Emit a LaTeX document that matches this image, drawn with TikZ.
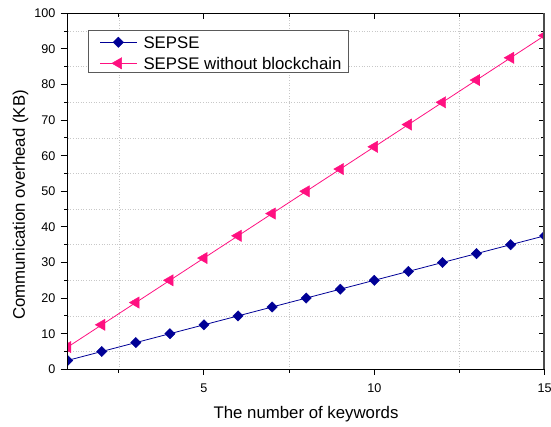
\documentclass[tikz,border=0pt]{standalone}
\usepackage{fontspec}
\setmainfont{Liberation Sans}
\usetikzlibrary{shapes.geometric,calc}
\definecolor{seblue}{RGB}{0,0,150}
\definecolor{sepink}{RGB}{255,16,128}
\definecolor{gridgray}{RGB}{200,200,200}
\definecolor{legborder}{RGB}{90,90,90}
\begin{document}
\begin{tikzpicture}[x=1pt,y=1pt,
  ticklab/.style={font=\fontsize{12.6}{14}\selectfont, inner sep=0pt},
  axtitle/.style={font=\fontsize{16.8}{19}\selectfont, inner sep=0pt},
  legtext/.style={font=\fontsize{16.8}{19}\selectfont, inner sep=0pt, anchor=base west},
  bluemark/.style={diamond, fill=seblue, draw=seblue, minimum width=10.5pt, minimum height=10.5pt, inner sep=0pt},
  pinkmark/.style={regular polygon, regular polygon sides=3, shape border rotate=90, fill=sepink, draw=sepink, minimum size=13pt, inner sep=0pt},
  blueline/.style={seblue, line width=0.8pt},
  pinkline/.style={sepink, line width=0.8pt},
  gridline/.style={gridgray, dotted, line width=0.6pt},
  axisline/.style={black, line width=1.4pt},
  tickline/.style={black, line width=1pt},
]
\useasboundingbox (0,0) rectangle (551,426);
\coordinate (ll) at (67.7,56.7);
\coordinate (ur) at (544.3,412.7);

% data frame: x = keywords, y = overhead in KB
\begin{scope}[shift={(33.63pt,56.7pt)}, x=34.07pt, y=3.56pt]
  % grid
  \foreach \v in {5,15,...,95} \draw[gridline] (1,\v) -- (15,\v);
  \foreach \u in {2.5,7.5,12.5} \draw[gridline] (\u,0) -- (\u,100);

  % series
  \foreach \k in {1,...,15} {
    \coordinate (b\k) at (\k,{2.5*\k});
    \coordinate (p\k) at (\k,{6.25*\k});
  }
  \begin{scope}
    \clip (ll) rectangle (ur);
    \draw[pinkline] (p1) \foreach \k in {2,...,15} { -- (p\k) };
    \draw[blueline] (b1) \foreach \k in {2,...,15} { -- (b\k) };
    \foreach \k in {1,...,15} {
      \node[pinkmark] (mp\k) at (p\k) {};
      \node[bluemark] (mb\k) at (b\k) {};
    }
  \end{scope}

  % ticks
  \foreach \v in {0,10,...,100} {
    \draw[tickline] ([xshift=-7pt]1,\v) -- (1,\v);
    \draw[tickline] (15,\v) -- ([xshift=-6pt]15,\v);
    \node[ticklab, anchor=east] at ([xshift=-12pt]1,\v) {\v};
  }
  \foreach \v in {5,15,...,95} {
    \draw[tickline] ([xshift=-3.5pt]1,\v) -- (1,\v);
    \draw[tickline] (15,\v) -- ([xshift=-3.5pt]15,\v);
  }
  \foreach \u in {5,10,15} {
    \draw[tickline] (\u,0) -- ([yshift=-6pt]\u,0);
    \draw[tickline] (\u,100) -- ([yshift=-6pt]\u,100);
    \node[ticklab, anchor=base] at ([yshift=-22.7pt]\u,0) {\u};
  }
  \foreach \u in {2.5,7.5,12.5} {
    \draw[tickline] (\u,0) -- ([yshift=-3.5pt]\u,0);
    \draw[tickline] (\u,100) -- ([yshift=-3.5pt]\u,100);
  }
\end{scope}

% frame
\draw[axisline] (ur -| ll) -- (ll) -- (ll -| ur);
\draw[axisline] (ur -| ll) -- (ur);
\draw[gray!60!black, line width=2.2pt] (ur) -- (ll -| ur);

% axis titles
\node[axtitle, anchor=base] (xtitle) at (306,8) {The number of keywords};
\node[axtitle, rotate=90, anchor=base] (ytitle) at (25,221) {Communication overhead (KB)};

% legend
\node[draw=legborder, line width=0.8pt, fill=white, minimum width=259.4pt, minimum height=42.3pt, inner sep=0pt, anchor=north west] (legend) at (88.3,396) {};
\coordinate (la1) at (100,383.7);
\coordinate (lb1) at (136.7,383.7);
\coordinate (la2) at (100,362.7);
\coordinate (lb2) at (136.7,362.7);
\draw[blueline] (la1) -- (lb1);
\node[bluemark] (lm1) at ($(la1)!0.5!(lb1)$) {};
\draw[pinkline] (la2) -- (lb2);
\node[pinkmark] (lm2) at ($(la2)!0.5!(lb2)$) {};
\node[legtext] (lt1) at (143.3,377.7) {SEPSE};
\node[legtext] (lt2) at (143.3,356.7) {SEPSE without blockchain};
\end{tikzpicture}
\end{document}
